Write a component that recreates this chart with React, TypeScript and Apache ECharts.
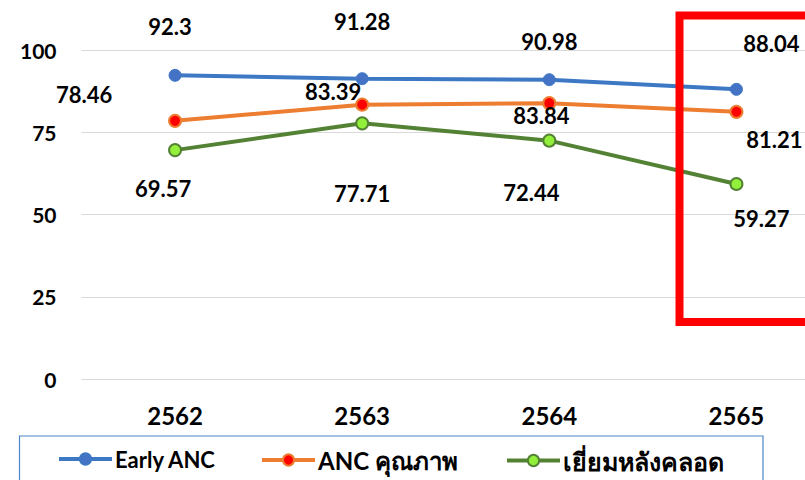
import React, { useEffect, useRef } from "react";
import * as echarts from "echarts";

const categories = ["2562", "2563", "2564", "2565"];
const seriesNames = ["Early ANC", "ANC คุณภาพ", "เยี่ยมหลังคลอด"];
const earlyAnc = [92.3, 91.28, 90.98, 88.04];
const ancQuality = [78.46, 83.39, 83.84, 81.21];
const postpartum = [69.57, 77.71, 72.44, 59.27];
const yTicks = { min: 0, max: 100, interval: 25 };

// label offsets (px) per point, layout only
const offEarly = [[-5, -49], [0, -57], [0, -38], [35, -46]];
const offAnc = [[-91, -26], [-29, -13], [-8, 12], [38, 28]];
const offPost = [[-12, 38], [0, 70], [-18, 52], [25, 34]];
const legendLefts = [57, 260, 505];
const legendFontSizes = [22, 24, 25];

const FONT = "Lato, 'Noto Sans', sans-serif";

function mk(values: number[], offs: number[][]) {
  return values.map((v, i) => ({
    value: v,
    label: { offset: offs[i] },
  }));
}

export default function App() {
  const ref = useRef<HTMLDivElement>(null);
  useEffect(() => {
    if (!ref.current) return;
    const chart = echarts.init(ref.current, undefined, { renderer: "svg" });
    const label = {
      show: true,
      position: "inside",
      color: "#000",
      fontSize: 22,
      fontWeight: "bold",
      fontFamily: FONT,
      align: "center",
      verticalAlign: "middle",
    };
    chart.setOption({
      animation: false,
      backgroundColor: "#fff",
      grid: { left: 81.5, right: 0, top: 50, bottom: 101, containLabel: false },
      xAxis: {
        type: "category",
        data: categories,
        boundaryGap: true,
        axisLine: { show: false },
        axisTick: { show: false },
        axisLabel: {
          color: "#000",
          fontSize: 24,
          fontWeight: "bold",
          fontFamily: FONT,
          margin: 24,
        },
      },
      yAxis: {
        type: "value",
        min: yTicks.min,
        max: yTicks.max,
        interval: yTicks.interval,
        axisLine: { show: false },
        axisTick: { show: false },
        splitLine: { lineStyle: { color: "#d9d9d9", width: 1 } },
        axisLabel: {
          color: "#000",
          fontSize: 21,
          fontWeight: "bold",
          fontFamily: FONT,
          margin: 25,
        },
      },
      legend: seriesNames.map((n, i) => ({
        left: legendLefts[i],
        top: 460,
        orient: "horizontal",
        padding: 0,
        itemWidth: 53,
        itemHeight: 14,
        lineStyle: { width: 4 },
        textStyle: {
          color: "#000",
          fontSize: legendFontSizes[i],
          fontWeight: "bold",
          fontFamily: FONT,
          padding: [0, 0, 0, -2],
          verticalAlign: "middle",
        },
        data: [n],
        // centre legend row at y≈460
        ...{ top: 460 - 12 },
      })),
      graphic: [
        {
          type: "rect",
          shape: { x: 19.5, y: 436, width: 743.5, height: 60 },
          style: { fill: "none", stroke: "#4a86c8", lineWidth: 1.2 },
          z: -1,
        },
        {
          type: "rect",
          shape: { x: 679.5, y: 15.5, width: 200, height: 306.5 },
          style: { fill: "none", stroke: "#ff0000", lineWidth: 8 },
          z: 100,
        },
      ],
      series: [
        {
          name: seriesNames[0],
          type: "line",
          data: mk(earlyAnc, offEarly),
          symbol: "circle",
          symbolSize: 12,
          lineStyle: { color: "#3d78c5", width: 4 },
          itemStyle: { color: "#4472c4", borderColor: "#3d78c5", borderWidth: 1 },
          label,
          z: 3,
        },
        {
          name: seriesNames[1],
          type: "line",
          data: mk(ancQuality, offAnc),
          symbol: "circle",
          symbolSize: 12,
          lineStyle: { color: "#ed7d31", width: 4 },
          itemStyle: { color: "#ff0000", borderColor: "#ed7d31", borderWidth: 2 },
          label,
          z: 3,
        },
        {
          name: seriesNames[2],
          type: "line",
          data: mk(postpartum, offPost),
          symbol: "circle",
          symbolSize: 12,
          lineStyle: { color: "#548235", width: 4 },
          itemStyle: { color: "#92f03a", borderColor: "#548235", borderWidth: 2 },
          label,
          z: 3,
        },
      ],
    });
    return () => chart.dispose();
  }, []);
  return (
    <div style={{ width: 805, height: 480, position: "fixed", left: 0, top: 0, overflow: "hidden", background: "#fff" }}>
      <div ref={ref} style={{ width: 830, height: 480 }} />
    </div>
  );
}
